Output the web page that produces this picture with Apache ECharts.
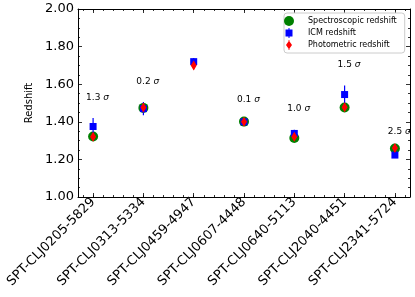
<!DOCTYPE html>
<html><head><meta charset="utf-8">
<script src="https://cdn.jsdelivr.net/npm/echarts@6/dist/echarts.min.js"></script>
<style>html,body{margin:0;padding:0;background:#fff}#c{width:415px;height:297px}</style>
</head><body><div id="c"></div>
<script>
const categories = ['SPT-CLJ0205-5829','SPT-CLJ0313-5334','SPT-CLJ0459-4947','SPT-CLJ0607-4448','SPT-CLJ0640-5113','SPT-CLJ2040-4451','SPT-CLJ2341-5724'];
const specZ  = [1.322, 1.474, null, 1.401, 1.314, 1.476, 1.258];
const icmZ   = [1.375, 1.470, 1.720, 1.400, 1.338, 1.545, 1.223];
const icmErr = [0.045, 0.035, 0.020, 0.010, 0.020, 0.048, 0.015];
const photoZ = [1.320, 1.476, 1.700, 1.400, 1.320, 1.478, 1.260];
const photoErr = [0.020, 0.020, 0.020, 0.020, 0.020, 0.020, 0.020];
const sigmaIdx = [0, 1, 3, 4, 5, 6];
const sigmaVal = ['1.3', '0.2', '0.1', '1.0', '1.5', '2.5'];
const sigmaY   = [1.528, 1.612, 1.520, 1.470, 1.702, 1.346];

const FONT = 'DejaVu Sans';
const majorX = categories.map((c, i) => i);
const minorX = [];
for (let k = -1; k <= 31; k++) minorX.push(+(k * 0.2).toFixed(1));

const chart = echarts.init(document.getElementById('c'), null, {renderer: 'canvas'});

function xAx(pos, major, withLabel) {
  return {
    type: 'value', min: -0.3, max: 6.3, position: pos, gridIndex: 0, offset: 0,
    axisLine: {show: major, onZero: false, lineStyle: {color: '#000', width: 1}},
    axisTick: {show: true, inside: true, length: major ? 4 : 2, customValues: major ? majorX : minorX,
               lineStyle: {color: '#000', width: 0.8}},
    axisLabel: withLabel ? {show: true, customValues: majorX, rotate: 45, margin: 3,
               formatter: v => categories[Math.round(v)] || '', fontFamily: FONT, fontSize: 13, color: '#000'} : {show: false},
    splitLine: {show: false}
  };
}
function yAx(pos, withLabel) {
  return {
    type: 'value', min: 1, max: 2, interval: 0.2, position: pos,
    axisLine: {show: true, onZero: false, lineStyle: {color: '#000', width: 1}},
    axisTick: {show: true, inside: true, length: 4, lineStyle: {color: '#000', width: 0.8}},
    minorTick: {show: true, splitNumber: 4, length: 2, lineStyle: {color: '#000', width: 0.8}},
    axisLabel: withLabel ? {show: true, margin: 4, formatter: v => v.toFixed(2), fontFamily: FONT, fontSize: 13, color: '#000'} : {show: false},
    splitLine: {show: false},
    name: withLabel ? 'Redshift' : '', nameLocation: 'middle', nameGap: 34,
    nameTextStyle: {fontFamily: FONT, fontSize: 10, color: '#000'}
  };
}

function errRender(params, api) {
  const x = api.value(0), lo = api.value(1), hi = api.value(2);
  const p1 = api.coord([x, lo]), p2 = api.coord([x, hi]);
  return {type: 'line', shape: {x1: p1[0], y1: p1[1], x2: p2[0], y2: p2[1]},
          style: {stroke: api.visual('color'), lineWidth: 1.2}};
}

const icmBars = icmZ.map((v, i) => [i, v - icmErr[i], v + icmErr[i]]);
const photoBars = photoZ.map((v, i) => [i, v - photoErr[i], v + photoErr[i]]);

const iconICM = 'path://M3,0 H4 V1.5 H7 V8.5 H4 V10 H3 V8.5 H0 V1.5 H3 Z';
const iconPhoto = 'path://M2.6,0 H3.4 V1.2 L6,5 L3.4,8.8 V10 H2.6 V8.8 L0,5 L2.6,1.2 Z';

chart.setOption({
  animation: false,
  backgroundColor: '#fff',
  grid: {left: 78, right: 5, top: 9, bottom: 100, containLabel: false},
  xAxis: [xAx('bottom', true, true), xAx('bottom', false, false), xAx('top', true, false), xAx('top', false, false)],
  yAxis: [yAx('left', true), yAx('right', false)],
  legend: {
    orient: 'vertical', left: 284, top: 13, padding: [3, 8, 3, 0], itemGap: 2,
    itemWidth: 28, itemHeight: 10, symbolKeepAspect: true,
    borderColor: '#cccccc', borderWidth: 1, borderRadius: 3, backgroundColor: 'rgba(255,255,255,0.8)',
    textStyle: {fontFamily: FONT, fontSize: 8, color: '#000'},
    data: [
      {name: 'Spectroscopic redshift', icon: 'circle'},
      {name: 'ICM redshift', icon: iconICM},
      {name: 'Photometric redshift', icon: iconPhoto}
    ]
  },
  series: [
    {name: 'Spectroscopic redshift', type: 'scatter', xAxisIndex: 0, yAxisIndex: 0,
     symbol: 'circle', symbolSize: 10, itemStyle: {color: '#008000', opacity: 1},
     data: specZ.map((v, i) => [i, v]), z: 2},
    {name: 'ICM redshift', type: 'custom', xAxisIndex: 0, yAxisIndex: 0, renderItem: errRender,
     itemStyle: {color: '#0000ff'}, data: icmBars, encode: {x: 0, y: [1, 2]}, z: 3},
    {name: 'ICM redshift', type: 'scatter', xAxisIndex: 0, yAxisIndex: 0,
     symbol: 'rect', symbolSize: 7, itemStyle: {color: '#0000ff', opacity: 1},
     data: icmZ.map((v, i) => [i, v]), z: 4},
    {name: 'Photometric redshift', type: 'custom', xAxisIndex: 0, yAxisIndex: 0, renderItem: errRender,
     itemStyle: {color: '#ff0000'}, data: photoBars, encode: {x: 0, y: [1, 2]}, z: 5},
    {name: 'Photometric redshift', type: 'scatter', xAxisIndex: 0, yAxisIndex: 0,
     symbol: 'diamond', symbolSize: [6, 10], itemStyle: {color: '#ff0000', opacity: 1},
     data: photoZ.map((v, i) => [i, v]), z: 6},
    {name: 'sigma', type: 'custom', xAxisIndex: 0, yAxisIndex: 0, silent: true, z: 7,
     data: sigmaIdx.map((ix, k) => [ix - 0.14, sigmaY[k], sigmaVal[k]]),
     renderItem: function (params, api) {
       const p = api.coord([api.value(0), api.value(1)]);
       const k = params.dataIndex;
       return {type: 'text', x: p[0], y: p[1],
         style: {text: '{n|' + sigmaVal[k] + ' }{s|σ}', align: 'left', verticalAlign: 'middle',
           rich: {n: {fontFamily: FONT, fontSize: 9, fill: '#000', color: '#000'},
                  s: {fontFamily: FONT, fontSize: 9, fontStyle: 'italic', fill: '#000', color: '#000'}}}};
     }}
  ]
});
</script></body></html>
